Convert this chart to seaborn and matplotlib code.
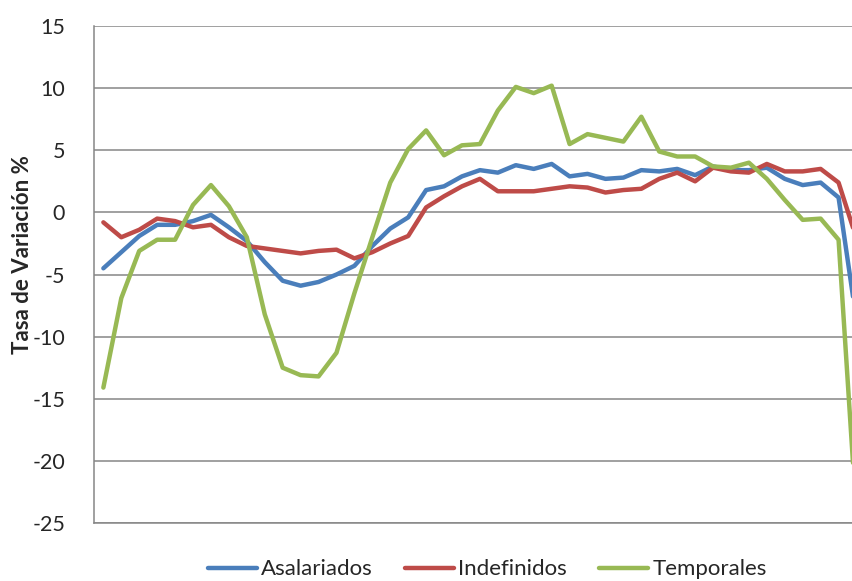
import matplotlib
matplotlib.use("Agg")
import matplotlib.pyplot as plt
import pandas as pd
import seaborn as sns

# Tasa de variación (%) por periodo
asalariados = [-4.5, -3.2, -1.9, -1.0, -1.0, -0.7, -0.2, -1.2, -2.3, -4.0,
               -5.5, -5.9, -5.6, -5.0, -4.3, -2.7, -1.3, -0.4, 1.8, 2.1,
               2.9, 3.4, 3.2, 3.8, 3.5, 3.9, 2.9, 3.1, 2.7, 2.8,
               3.4, 3.3, 3.5, 3.0, 3.7, 3.4, 3.4, 3.6, 2.7, 2.2,
               2.4, 1.2, -8.7]
indefinidos = [-0.8, -2.0, -1.4, -0.5, -0.7, -1.2, -1.0, -2.0, -2.7, -2.9,
               -3.1, -3.3, -3.1, -3.0, -3.7, -3.2, -2.5, -1.9, 0.4, 1.3,
               2.1, 2.7, 1.7, 1.7, 1.7, 1.9, 2.1, 2.0, 1.6, 1.8,
               1.9, 2.7, 3.2, 2.5, 3.6, 3.3, 3.2, 3.9, 3.3, 3.3,
               3.5, 2.4, -2.1]
temporales = [-14.1, -6.9, -3.1, -2.2, -2.2, 0.6, 2.2, 0.5, -2.0, -8.2,
              -12.5, -13.1, -13.2, -11.3, -6.5, -2.0, 2.4, 5.1, 6.6, 4.6,
              5.4, 5.5, 8.2, 10.1, 9.6, 10.2, 5.5, 6.3, 6.0, 5.7,
              7.7, 4.9, 4.5, 4.5, 3.7, 3.6, 4.0, 2.7, 1.0, -0.6,
              -0.5, -2.2, -24.5]
series_names = ["Asalariados", "Indefinidos", "Temporales"]
colors = ["#4A7EBB", "#BE4B48", "#98B954"]
y_ticks = [-25, -20, -15, -10, -5, 0, 5, 10, 15]

periodo = list(range(len(asalariados)))
df = pd.DataFrame({
    "periodo": periodo,
    "Asalariados": asalariados,
    "Indefinidos": indefinidos,
    "Temporales": temporales,
}).melt(id_vars="periodo", var_name="serie", value_name="tasa")

sns.set_style("white")
plt.rcParams["font.family"] = ["Lato", "DejaVu Sans"]
plt.rcParams["axes.unicode_minus"] = False

fig = plt.figure(figsize=(8.52, 5.81), dpi=100)
# the plot area runs past the right edge of the image, as in the original
ax = fig.add_axes([0.1108, 0.0998, 0.905, 0.8554])

sns.lineplot(data=df, x="periodo", y="tasa", hue="serie", hue_order=series_names,
             palette=colors, linewidth=3.2, ax=ax, legend=False)

ax.set_xlim(-0.5, len(periodo) - 0.5)
ax.set_ylim(-25, 15)
ax.set_yticks(y_ticks)
ax.set_xticks([])
ax.grid(axis="y", color="#868686", linewidth=1.1)
ax.set_axisbelow(True)
for side in ["top", "right"]:
    ax.spines[side].set_visible(False)
for side in ["left", "bottom"]:
    ax.spines[side].set_color("#868686")
    ax.spines[side].set_linewidth(1.1)
ax.tick_params(axis="y", length=4, width=1.1, color="#868686", pad=17, labelsize=15.5)
ax.set_xlabel("")
ax.set_ylabel("Tasa de Variación %", fontsize=16, fontweight="bold")
ax.yaxis.set_label_coords(-0.08, 0.54)

handles = [plt.Line2D([], [], color=c, linewidth=3.2) for c in colors]
fig.legend(handles, series_names, loc="center", bbox_to_anchor=(0.572, 0.02),
           ncol=3, frameon=False, fontsize=16, handlelength=2.2,
           handletextpad=0.2, columnspacing=1.45)

fig.savefig("out.png", dpi=100)
